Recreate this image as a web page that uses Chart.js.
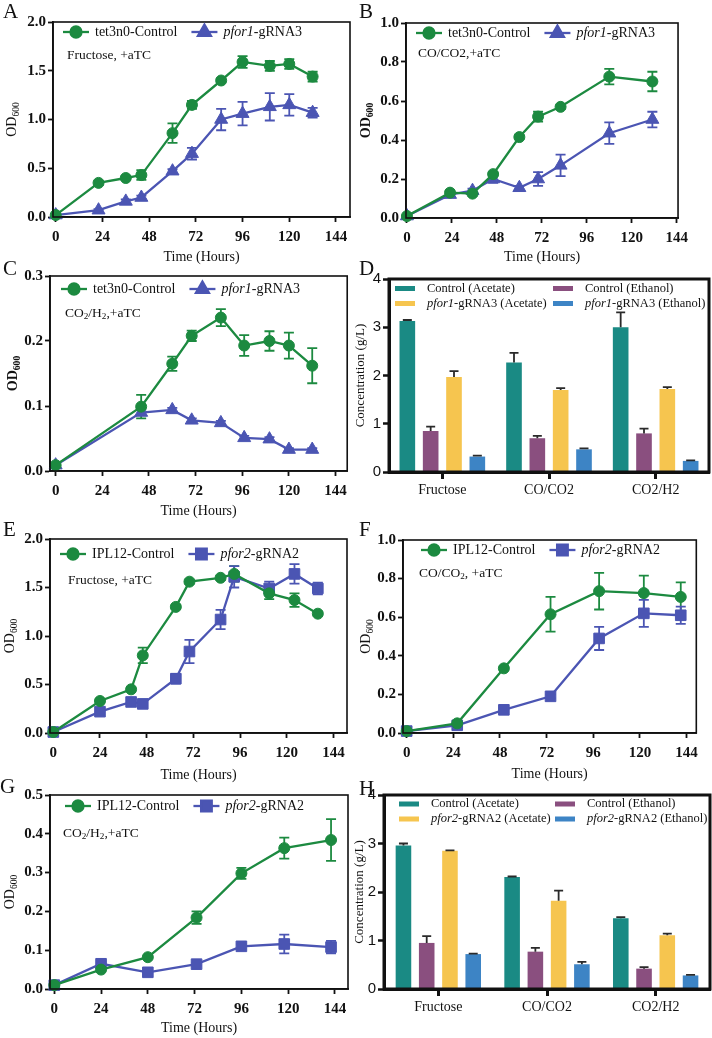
<!DOCTYPE html>
<html>
<head>
<meta charset="utf-8">
<script src="https://cdn.jsdelivr.net/npm/chart.js@4.4.0/dist/chart.umd.min.js"></script>
<style>
  html, body { margin: 0; padding: 0; background: #fff; }
  #fig { position: relative; width: 712px; height: 1038px; overflow: hidden; }
  #fig canvas { position: absolute; }
  .letter { position: absolute; font: 21px "Liberation Serif", serif; color: #111; line-height: 1; }
</style>
</head>
<body>
<div id="fig"></div>
<script>
// ---- data ----
const timeA = [0, 22, 36, 44, 60, 70, 85, 96, 110, 120, 132];
const ctlA = [0.02, 0.35, 0.40, 0.43, 0.86, 1.15, 1.40, 1.59, 1.55, 1.57, 1.44];
const ctlAErr = [0, 0.02, 0.02, 0.05, 0.10, 0.04, 0.02, 0.06, 0.05, 0.05, 0.05];
const mutA = [0.02, 0.07, 0.16, 0.20, 0.47, 0.65, 1.00, 1.06, 1.13, 1.15, 1.07];
const mutAErr = [0, 0.01, 0.02, 0.02, 0.02, 0.06, 0.11, 0.12, 0.14, 0.11, 0.05];

const timeB = [0, 23, 35, 46, 60, 70, 82, 108, 131];
const ctlB = [0.01, 0.13, 0.125, 0.225, 0.415, 0.52, 0.57, 0.725, 0.70];
const ctlBErr = [0, 0.01, 0.01, 0.01, 0.01, 0.025, 0.01, 0.04, 0.05];
const mutB = [0.01, 0.12, 0.14, 0.20, 0.155, 0.20, 0.27, 0.435, 0.505];
const mutBErr = [0, 0.01, 0.01, 0.02, 0.01, 0.035, 0.055, 0.055, 0.04];

const timeC = [0, 44, 60, 70, 85, 97, 110, 120, 132];
const ctlC = [0.009, 0.099, 0.165, 0.208, 0.236, 0.193, 0.200, 0.193, 0.162];
const ctlCErr = [0, 0.018, 0.011, 0.008, 0.013, 0.016, 0.015, 0.02, 0.027];
const mutC = [0.009, 0.09, 0.094, 0.078, 0.074, 0.051, 0.049, 0.033, 0.033];
const mutCErr = [0, 0.004, 0.003, 0.003, 0.003, 0.003, 0.003, 0.002, 0.002];

const timeE = [0, 24, 40, 46, 63, 70, 86, 93, 111, 124, 136];
const ctlE = [0.01, 0.33, 0.45, 0.80, 1.30, 1.56, 1.60, 1.64, 1.44, 1.37, 1.23];
const ctlEErr = [0, 0.02, 0.02, 0.08, 0.02, 0.02, 0.02, 0.08, 0.06, 0.07, 0.02];
const mutE = [0.01, 0.22, 0.32, 0.30, 0.56, 0.84, 1.17, 1.61, 1.49, 1.64, 1.49];
const mutEErr = [0, 0.02, 0.03, 0.02, 0.05, 0.12, 0.10, 0.11, 0.07, 0.10, 0.06];

const timeF = [0, 26, 50, 74, 99, 122, 141];
const ctlF = [0.01, 0.05, 0.335, 0.615, 0.735, 0.725, 0.705];
const ctlFErr = [0, 0.01, 0.01, 0.09, 0.095, 0.09, 0.075];
const mutF = [0.01, 0.04, 0.12, 0.19, 0.49, 0.62, 0.61];
const mutFErr = [0, 0.01, 0.01, 0.01, 0.06, 0.07, 0.045];

const timeG = [0, 24, 48, 73, 96, 118, 142];
const ctlG = [0.01, 0.05, 0.082, 0.184, 0.298, 0.363, 0.384];
const ctlGErr = [0, 0.004, 0.004, 0.016, 0.014, 0.027, 0.054];
const mutG = [0.01, 0.065, 0.043, 0.064, 0.11, 0.116, 0.108];
const mutGErr = [0, 0.004, 0.004, 0.004, 0.006, 0.024, 0.016];

const substrates = ['Fructose', 'CO/CO2', 'CO2/H2'];
const ctlAceD = [3.13, 2.27, 3.00], ctlAceDErr = [0.02, 0.20, 0.31];
const ctlEthD = [0.85, 0.70, 0.80], ctlEthDErr = [0.09, 0.05, 0.10];
const mutAceD = [1.97, 1.70, 1.72], mutAceDErr = [0.12, 0.04, 0.04];
const mutEthD = [0.32, 0.47, 0.23], mutEthDErr = [0.02, 0.02, 0.01];

const ctlAceH = [2.96, 2.31, 1.46], ctlAceHErr = [0.04, 0.01, 0.02];
const ctlEthH = [0.95, 0.77, 0.42], ctlEthHErr = [0.14, 0.08, 0.03];
const mutAceH = [2.85, 1.82, 1.11], mutAceHErr = [0.01, 0.21, 0.03];
const mutEthH = [0.72, 0.51, 0.28], mutEthHErr = [0.01, 0.05, 0.01];

const hourTicks = [0, 24, 48, 72, 96, 120, 144];
const odTicks2 = [0, 0.5, 1.0, 1.5, 2.0];
const odTicks1 = [0, 0.2, 0.4, 0.6, 0.8, 1.0];
const odTicks03 = [0, 0.1, 0.2, 0.3];
const odTicks05 = [0, 0.1, 0.2, 0.3, 0.4, 0.5];
const concTicks = [0, 1, 2, 3, 4];

// ---- styling ----
const SERIF = '"Liberation Serif", "Times New Roman", serif';
const SANS = '"Liberation Sans", Arial, sans-serif';
const INK = '#111';
const GREEN = '#1c8a40';
const BLUE = '#4b55b3';
const BAR_COLORS = ['#1a8a84', '#8a4f7f', '#f6c54f', '#3d84c5'];

const fig = document.getElementById('fig');

// *italic*  and  _{sub}
function parseRich(str) {
  const out = [];
  const re = /\*([^*]+)\*|_\{([^}]+)\}|([^*_]+)/g;
  let m;
  while ((m = re.exec(str))) {
    if (m[1]) out.push({ t: m[1], i: true });
    else if (m[2]) out.push({ t: m[2], s: true });
    else out.push({ t: m[3] });
  }
  return out;
}

function drawRich(ctx, str, x, y, size, weight, align) {
  const segs = parseRich(str);
  const fontOf = sg => `${sg.i ? 'italic ' : ''}${weight} ${sg.s ? size * 0.68 : size}px ${SERIF}`;
  let w = 0;
  segs.forEach(sg => { ctx.font = fontOf(sg); w += ctx.measureText(sg.t).width; });
  let cx = align === 'center' ? x - w / 2 : x;
  ctx.textAlign = 'left';
  ctx.textBaseline = 'middle';
  segs.forEach(sg => {
    ctx.font = fontOf(sg);
    ctx.fillText(sg.t, cx, y + (sg.s ? size * 0.3 : 0));
    cx += ctx.measureText(sg.t).width;
  });
  return w;
}

function drawErrors(chart, both, capHalf, color, width) {
  const { ctx } = chart;
  const ys = chart.scales.y;
  ctx.save();
  ctx.lineWidth = width;
  chart.data.datasets.forEach((ds, di) => {
    if (!ds.err) return;
    const meta = chart.getDatasetMeta(di);
    meta.data.forEach((el, i) => {
      const e = ds.err[i];
      if (!e) return;
      const v = typeof ds.data[i] === 'object' ? ds.data[i].y : ds.data[i];
      const yTop = ys.getPixelForValue(v + e);
      const yBot = both ? ys.getPixelForValue(v - e) : el.y;
      ctx.strokeStyle = color || ds.borderColor;
      ctx.beginPath();
      ctx.moveTo(el.x, yTop); ctx.lineTo(el.x, yBot);
      ctx.moveTo(el.x - capHalf, yTop); ctx.lineTo(el.x + capHalf, yTop);
      if (both) { ctx.moveTo(el.x - capHalf, yBot); ctx.lineTo(el.x + capHalf, yBot); }
      ctx.stroke();
    });
  });
  ctx.restore();
}

const decor = {
  id: 'decor',
  beforeDatasetsDraw(chart, args, o) {
    if (o.kind === 'line') drawErrors(chart, true, 5, null, 1.8);
  },
  afterDatasetsDraw(chart, args, o) {
    if (o.kind === 'bar') drawErrors(chart, false, 4.5, '#2a2a2a', 1.8);
  },
  afterDraw(chart, args, o) {
    const { ctx, chartArea: a } = chart;
    ctx.save();
    ctx.strokeStyle = INK;
    ctx.lineWidth = o.box;
    ctx.strokeRect(a.left, a.top, a.right - a.left, a.bottom - a.top);
    ctx.fillStyle = INK;

    ctx.save();
    ctx.translate(a.left - o.yTitleOff, (a.top + a.bottom) / 2);
    ctx.rotate(-Math.PI / 2);
    drawRich(ctx, o.yTitle, 0, 0, o.yTitleSize, o.yTitleBold ? 'bold' : 'normal', 'center');
    ctx.restore();

    if (o.note) drawRich(ctx, o.note, a.left + o.noteX, a.top + o.noteY, 13.5, 'normal', 'left');

    const dsets = chart.data.datasets;
    if (o.kind === 'line') {
      let sx = a.left + o.legX;
      const ly = a.top + o.legY;
      dsets.forEach(ds => {
        ctx.strokeStyle = ds.borderColor;
        ctx.lineWidth = 2.3;
        ctx.beginPath(); ctx.moveTo(sx, ly); ctx.lineTo(sx + 26, ly); ctx.stroke();
        ctx.fillStyle = ds.borderColor;
        Chart.helpers.drawPoint(ctx, { pointStyle: ds.pointStyle, radius: ds.pointRadius, rotation: 0, borderWidth: 1 }, sx + 13, ly);
        ctx.fillStyle = INK;
        const w = drawRich(ctx, ds.rich, sx + 32, ly, 14, 'normal', 'left');
        sx += 32 + w + 14;
      });
    } else {
      const cols = [o.legX, o.legX2];
      const rows = [o.legY, o.legY + 15];
      const place = [[0, 0], [1, 0], [0, 1], [1, 1]];
      dsets.forEach((ds, i) => {
        const x = a.left + cols[place[i][0]];
        const y = a.top + rows[place[i][1]];
        ctx.fillStyle = ds.backgroundColor;
        ctx.fillRect(x, y - 2.5, 20, 5);
        ctx.fillStyle = INK;
        drawRich(ctx, ds.rich, x + 32, y, 12.5, 'normal', 'left');
      });
    }
    ctx.restore();
  }
};

function makeCanvas(p) {
  const W = p.R - p.L + p.padL + p.padR;
  const H = p.B - p.T + p.padT + p.padB;
  const cv = document.createElement('canvas');
  cv.width = W; cv.height = H;
  cv.style.left = (p.L - p.padL) + 'px';
  cv.style.top = (p.T - p.padT) + 'px';
  cv.style.width = W + 'px';
  cv.style.height = H + 'px';
  fig.appendChild(cv);
  return cv;
}

function lineChart(p) {
  const cv = makeCanvas(p);
  return new Chart(cv, {
    type: 'line',
    data: {
      datasets: p.series.map(s => ({
        label: s.label.replace(/\*/g, ''),
        rich: s.label,
        data: p.times.map((t, i) => ({ x: t, y: s.vals[i] })),
        err: s.err,
        borderColor: s.color,
        backgroundColor: s.color,
        pointBackgroundColor: s.color,
        pointBorderColor: s.color,
        pointStyle: s.style,
        pointRadius: s.radius,
        pointHoverRadius: s.radius,
        pointBorderWidth: 1,
        borderWidth: 2.3,
        tension: 0,
        clip: false
      }))
    },
    options: {
      responsive: false,
      animation: false,
      events: [],
      layout: { padding: { top: p.padT, right: p.padR, left: 0, bottom: 0 }, autoPadding: false },
      plugins: {
        legend: { display: false },
        tooltip: { enabled: false },
        decor: Object.assign({ kind: 'line', box: 1.6, yTitle: 'OD_{600}', yTitleSize: 14 }, p.decor)
      },
      scales: {
        x: {
          type: 'linear', min: p.xMin, max: p.xMax,
          afterFit: s => { s.height = p.padB; },
          afterBuildTicks: s => { s.ticks = hourTicks.map(v => ({ value: v })); },
          ticks: { font: { family: SERIF, size: 15, weight: 'bold' }, color: INK, padding: 6, maxRotation: 0, autoSkip: false },
          grid: { drawOnChartArea: false, tickLength: 5, tickWidth: 1.8, tickColor: INK },
          border: { color: INK, width: 1.8 },
          title: { display: true, text: 'Time (Hours)', font: { family: SERIF, size: 14, lineHeight: 1.2 }, color: INK, padding: 0 }
        },
        y: {
          min: 0, max: p.yMax,
          afterFit: s => { s.width = p.padL; },
          afterBuildTicks: s => { s.ticks = p.yTicks.map(v => ({ value: v })); },
          ticks: { callback: v => v.toFixed(1), font: { family: SERIF, size: 15, weight: 'bold' }, color: INK, padding: 2, autoSkip: false },
          grid: { drawOnChartArea: false, tickLength: 5, tickWidth: 1.8, tickColor: INK },
          border: { color: INK, width: 1.8 }
        }
      }
    },
    plugins: [decor]
  });
}

function barChart(p) {
  const cv = makeCanvas(p);
  return new Chart(cv, {
    type: 'bar',
    data: {
      labels: substrates,
      datasets: p.series.map((s, i) => ({
        label: s.label.replace(/\*/g, ''),
        rich: s.label,
        data: s.vals,
        err: s.err,
        backgroundColor: BAR_COLORS[i],
        borderColor: BAR_COLORS[i],
        borderWidth: 0,
        categoryPercentage: p.catPct,
        barPercentage: 0.67
      }))
    },
    options: {
      responsive: false,
      animation: false,
      events: [],
      layout: { padding: { top: p.padT, right: p.padR, left: 0, bottom: 0 }, autoPadding: false },
      plugins: {
        legend: { display: false },
        tooltip: { enabled: false },
        decor: Object.assign({ kind: 'bar', box: 3, yTitle: 'Concentration (g/L)', yTitleSize: 13 }, p.decor)
      },
      scales: {
        x: {
          type: 'category', offset: true,
          afterFit: s => { s.height = p.padB; },
          ticks: { font: { family: SERIF, size: 14 }, color: INK, padding: 3, maxRotation: 0 },
          grid: { offset: false, drawOnChartArea: false, tickLength: 7, tickWidth: 3, tickColor: INK },
          border: { color: INK, width: 3 }
        },
        y: {
          min: 0, max: 4,
          afterFit: s => { s.width = p.padL; },
          afterBuildTicks: s => { s.ticks = concTicks.map(v => ({ value: v })); },
          ticks: { callback: v => String(v), font: { family: SANS, size: 15 }, color: INK, padding: 2 },
          grid: { drawOnChartArea: false, tickLength: 6, tickWidth: 2.5, tickColor: INK },
          border: { color: INK, width: 3 }
        }
      }
    },
    plugins: [decor]
  });
}

const PADS = { padL: 50, padT: 12, padR: 5 };

function pairSeries(ctl, ctlErr, mut, mutErr, ctlName, mutName, mutStyle, mutR) {
  return [
    { label: ctlName, vals: ctl, err: ctlErr, color: GREEN, style: 'circle', radius: 5.5 },
    { label: mutName, vals: mut, err: mutErr, color: BLUE, style: mutStyle, radius: mutR }
  ];
}

const nameCtl1 = 'tet3n0-Control', nameMut1 = '*pfor1*-gRNA3';
const nameCtl2 = 'IPL12-Control', nameMut2 = '*pfor2*-gRNA2';

lineChart(Object.assign({}, PADS, {
  L: 53, T: 22, R: 350, B: 217, padB: 49, xMin: -1.4, xMax: 151.2, yMax: 2.0, yTicks: odTicks2,
  times: timeA,
  series: pairSeries(ctlA, ctlAErr, mutA, mutAErr, nameCtl1, nameMut1, 'triangle', 7.5),
  decor: { yTitleOff: 41, yTitleBold: false, note: 'Fructose, +aTC', noteX: 14, noteY: 33, legX: 10, legY: 10 }
}));

lineChart(Object.assign({}, PADS, {
  L: 406, T: 23, R: 689, B: 218, padB: 48, xMin: -0.5, xMax: 144.7, yMax: 1.0, yTicks: odTicks1,
  times: timeB,
  series: pairSeries(ctlB, ctlBErr, mutB, mutBErr, nameCtl1, nameMut1, 'triangle', 7.5),
  decor: { yTitleOff: 40, yTitleBold: true, note: 'CO/CO2,+aTC', noteX: 12, noteY: 30, legX: 10, legY: 10 }
}));

lineChart(Object.assign({}, PADS, {
  L: 50, T: 276, R: 348, B: 471, padB: 49, xMin: -2.9, xMax: 150, yMax: 0.3, yTicks: odTicks03,
  times: timeC,
  series: pairSeries(ctlC, ctlCErr, mutC, mutCErr, nameCtl1, nameMut1, 'triangle', 7.5),
  decor: { yTitleOff: 37, yTitleBold: true, note: 'CO_{2}/H_{2},+aTC', noteX: 15, noteY: 37, legX: 11, legY: 13 }
}));

barChart({
  L: 389, T: 279, R: 709, B: 472, padL: 40, padT: 12, padR: 2, padB: 30, catPct: 0.875,
  series: [
    { label: 'Control (Acetate)', vals: ctlAceD, err: ctlAceDErr },
    { label: 'Control (Ethanol)', vals: ctlEthD, err: ctlEthDErr },
    { label: '*pfor1*-gRNA3 (Acetate)', vals: mutAceD, err: mutAceDErr },
    { label: '*pfor1*-gRNA3 (Ethanol)', vals: mutEthD, err: mutEthDErr }
  ],
  decor: { yTitleOff: 28, legX: 6, legX2: 164, legY: 9.5 }
});

lineChart(Object.assign({}, PADS, {
  L: 50, T: 539, R: 347, B: 733, padB: 51, xMin: -1.7, xMax: 151, yMax: 2.0, yTicks: odTicks2,
  times: timeE,
  series: pairSeries(ctlE, ctlEErr, mutE, mutEErr, nameCtl2, nameMut2, 'rect', 7.5),
  decor: { yTitleOff: 40, yTitleBold: false, note: 'Fructose, +aTC', noteX: 18, noteY: 41, legX: 10, legY: 15 }
}));

lineChart(Object.assign({}, PADS, {
  L: 403, T: 540, R: 699, B: 733, padB: 50, xMin: -1.9, xMax: 149, yMax: 1.0, yTicks: odTicks1,
  times: timeF,
  series: pairSeries(ctlF, ctlFErr, mutF, mutFErr, nameCtl2, nameMut2, 'rect', 7.5),
  decor: { yTitleOff: 37, yTitleBold: false, note: 'CO/CO_{2}, +aTC', noteX: 16, noteY: 33, legX: 18, legY: 10 }
}));

lineChart(Object.assign({}, PADS, {
  L: 50, T: 795, R: 348, B: 989, padB: 48, xMin: -2.2, xMax: 150.7, yMax: 0.5, yTicks: odTicks05,
  times: timeG,
  series: pairSeries(ctlG, ctlGErr, mutG, mutGErr, nameCtl2, nameMut2, 'rect', 7.5),
  decor: { yTitleOff: 40, yTitleBold: false, note: 'CO_{2}/H_{2},+aTC', noteX: 13, noteY: 38, legX: 15, legY: 11 }
}));

barChart({
  L: 384, T: 795, R: 710, B: 989, padL: 35, padT: 12, padR: 2, padB: 30, catPct: 0.856,
  series: [
    { label: 'Control (Acetate)', vals: ctlAceH, err: ctlAceHErr },
    { label: 'Control (Ethanol)', vals: ctlEthH, err: ctlEthHErr },
    { label: '*pfor2*-gRNA2 (Acetate)', vals: mutAceH, err: mutAceHErr },
    { label: '*pfor2*-gRNA2 (Ethanol)', vals: mutEthH, err: mutEthHErr }
  ],
  decor: { yTitleOff: 24, legX: 15, legX2: 171, legY: 9 }
});

// panel letters
[['A', 3, 1], ['B', 359, 1], ['C', 3, 258], ['D', 359, 258],
 ['E', 3, 519], ['F', 359, 519], ['G', 0, 776], ['H', 359, 778]].forEach(([t, x, y]) => {
  const d = document.createElement('div');
  d.className = 'letter';
  d.textContent = t;
  d.style.left = x + 'px';
  d.style.top = y + 'px';
  fig.appendChild(d);
});
</script>
</body>
</html>
